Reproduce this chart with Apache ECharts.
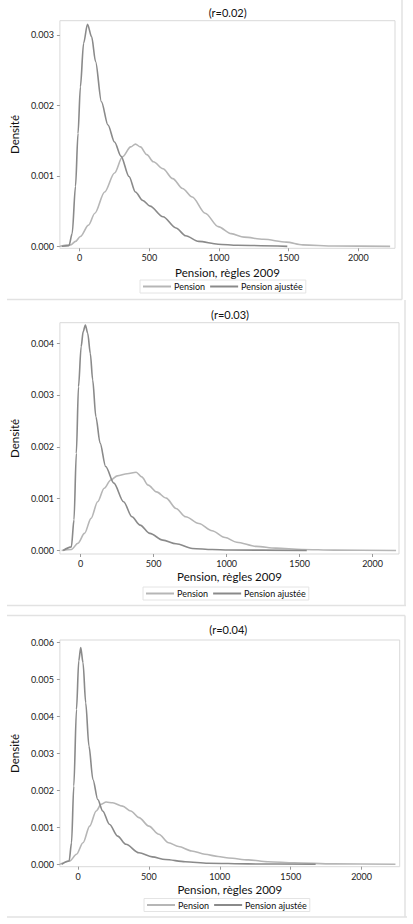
<!DOCTYPE html>
<html>
<head>
<meta charset="utf-8">
<script src="https://cdn.jsdelivr.net/npm/echarts@6/dist/echarts.min.js"></script>
<style>
html,body{margin:0;padding:0;background:#fff;}
#c{width:413px;height:924px;}
</style>
</head>
<body>
<div id="c"></div>
<script>
// ---- data ----
const titles = ['(r=0.02)', '(r=0.03)', '(r=0.04)'];
const seriesNames = ['Pension', 'Pension ajustée'];
const xTicks = [0, 500, 1000, 1500, 2000];
const yTicks1 = [0, 0.001, 0.002, 0.003];
const yTicks2 = [0, 0.001, 0.002, 0.003, 0.004];
const yTicks3 = [0, 0.001, 0.002, 0.003, 0.004, 0.005, 0.006];

// Panel 1 (r=0.02)
const p1PensionX = [-142,-65,-30,5,63,109,179,250,307,366,400,436,482,529,598,668,738,808,901,994,1087,1180,1320,1483,1600,1830,2228];
const p1PensionY = [0,0.00002,0.00007,0.00014,0.0003,0.00047,0.00077,0.00104,0.00127,0.00141,0.00145,0.00141,0.0013,0.0012,0.0011,0.00096,0.00082,0.0007,0.00047,0.00028,0.00018,0.00013,0.0001,0.00006,0.00002,0.000005,0];
const p1AjusteeX = [-128,-77,-54,-30,-12,5,28,56,86,114,156,203,250,296,354,400,453,505,598,691,761,854,993,1133,1490];
const p1AjusteeY = [0,0.00001,0.00018,0.00085,0.0016,0.00226,0.00288,0.00315,0.00297,0.00262,0.00205,0.00172,0.00148,0.00128,0.00099,0.00077,0.00065,0.00057,0.00042,0.00026,0.00015,0.00007,0.00003,0.000015,0];

// Panel 2 (r=0.03)
const p2PensionX = [-131,-64,-19,26,71,116,161,206,251,318,380,418,463,519,586,653,720,810,900,989,1069,1203,1337,1515,1738,2161];
const p2PensionY = [0,0.00002,0.00014,0.00033,0.00062,0.00094,0.0012,0.00136,0.00144,0.00148,0.00151,0.00142,0.00126,0.00113,0.00101,0.00081,0.00065,0.00052,0.00038,0.00025,0.00016,0.00008,0.000045,0.00002,0.000008,0];
const p2AjusteeX = [-120,-64,-46,-30,-15,3,17,32,48,66,82,104,133,171,227,294,351,407,474,563,653,765,900,1012,1549];
const p2AjusteeY = [0,0.00007,0.00059,0.00187,0.00316,0.00393,0.00422,0.00435,0.00419,0.0038,0.00329,0.00258,0.00207,0.00162,0.0013,0.00094,0.00065,0.00049,0.00033,0.0002,0.00013,0.00004,0.00002,0.00001,0];

// Panel 3 (r=0.04)
const p3PensionX = [-128,-58,-11,35,82,128,163,198,244,314,372,430,500,570,639,709,802,895,988,1062,1201,1340,1525,1803,2239];
const p3PensionY = [0,0.00009,0.00027,0.00058,0.00103,0.00144,0.00162,0.00168,0.00166,0.00157,0.00144,0.00126,0.00103,0.00081,0.00058,0.00048,0.00036,0.00027,0.00021,0.00017,0.00012,0.00007,0.00004,0.00001,0];
const p3AjusteeX = [-116,-63,-46,-30,-11,5,19,35,54,77,105,139,174,221,279,338,430,523,616,756,918,1200,1676];
const p3AjusteeY = [0,0.00009,0.00058,0.00211,0.00418,0.00549,0.00585,0.00544,0.00436,0.00319,0.00229,0.00175,0.00144,0.00108,0.00076,0.00054,0.00031,0.0002,0.00013,0.00007,0.00003,0.00001,0];

// ---- layout / style ----
const FONT = 'Lato, "Open Sans", sans-serif';
const colPension = '#b6b6b6';
const colAjustee = '#8a8a8a';

const panels = [
  {grid:{left:50.7, top:20.7, width:344.3, height:227.6}, x:[-142,2263], y:[-0.000028,0.0032], yTicks:yTicks1,
   title:{x:227.7, y:6.5}, xGap:18, yGap:33.5, legendTop:280, legendLeft:140,
   pension:[p1PensionX,p1PensionY], ajustee:[p1AjusteeX,p1AjusteeY]},
  {grid:{left:53.3, top:322.7, width:345.7, height:231.3}, x:[-142.5,2181], y:[-0.0000675,0.004393], yTicks:yTicks2,
   title:{x:230, y:309}, xGap:16.5, yGap:35.5, legendTop:587, legendLeft:143,
   pension:[p2PensionX,p2PensionY], ajustee:[p2AjusteeX,p2AjusteeY]},
  {grid:{left:56, top:640, width:343.7, height:226.7}, x:[-128,2269], y:[-0.000065,0.006054], yTicks:yTicks3,
   title:{x:228.3, y:624}, xGap:17, yGap:35.5, legendTop:898.5, legendLeft:144,
   pension:[p3PensionX,p3PensionY], ajustee:[p3AjusteeX,p3AjusteeY]}
];

function zip(xs, ys){ return xs.map((x,i)=>[x, ys[i]]); }

const option = {
  backgroundColor:'#fff',
  animation:false,
  textStyle:{fontFamily:FONT},
  title:[], grid:[], xAxis:[], yAxis:[], legend:[], series:[],
  graphic:[]
};

panels.forEach((p, i) => {
  option.title.push({
    text: titles[i], left: p.title.x, top: p.title.y, textAlign:'center', padding:0,
    textStyle:{fontFamily:FONT, fontSize:11, fontWeight:'normal', color:'#111'}
  });
  option.grid.push(Object.assign({show:true, borderColor:'#d9d9d9', borderWidth:1, backgroundColor:'#fff'}, p.grid));
  option.xAxis.push({
    type:'value', gridIndex:i, min:p.x[0], max:p.x[1],
    name:'Pension, règles 2009', nameLocation:'middle', nameGap:p.xGap,
    nameTextStyle:{fontFamily:FONT, fontSize:11.5, fontWeight:'normal', color:'#111'},
    axisLine:{show:false, onZero:false},
    axisTick:{show:true, length:3, lineStyle:{color:'#9a9a9a'}, customValues:xTicks},
    axisLabel:{fontFamily:FONT, fontSize:9, color:'#222', margin:5, customValues:xTicks,
      formatter: v => String(Math.round(v))},
    splitLine:{show:false}
  });
  option.yAxis.push({
    type:'value', gridIndex:i, min:p.y[0], max:p.y[1],
    name:'Densité', nameLocation:'middle', nameGap:p.yGap,
    nameTextStyle:{fontFamily:FONT, fontSize:11.5, fontWeight:'normal', color:'#111'},
    axisLine:{show:false, onZero:false},
    axisTick:{show:true, length:3, lineStyle:{color:'#9a9a9a'}, customValues:p.yTicks},
    axisLabel:{fontFamily:FONT, fontSize:9, color:'#222', margin:6, customValues:p.yTicks,
      formatter: v => v.toFixed(3)},
    splitLine:{show:false}
  });
  option.legend.push({
    data: seriesNames, left:p.legendLeft, top:p.legendTop, orient:'horizontal',
    icon:'rect', itemWidth:28, itemHeight:2, itemGap:5,
    padding:[2,3,2,3], borderColor:'#e4e4e4', borderWidth:1,
    textStyle:{fontFamily:FONT, fontSize:9, color:'#111', padding:[0,0,0,-2]},
    selectedMode:false
  });
  option.series.push({
    name: seriesNames[0], type:'line', xAxisIndex:i, yAxisIndex:i,
    data: zip(p.pension[0], p.pension[1]), showSymbol:false, symbol:'none',
    smooth:0.3, smoothMonotone:'x', lineStyle:{color:colPension, width:1.6}, itemStyle:{color:colPension}, z:2
  });
  option.series.push({
    name: seriesNames[1], type:'line', xAxisIndex:i, yAxisIndex:i,
    data: zip(p.ajustee[0], p.ajustee[1]), showSymbol:false, symbol:'none',
    smooth:0.3, smoothMonotone:'x', lineStyle:{color:colAjustee, width:1.6}, itemStyle:{color:colAjustee}, z:3
  });
});

// panel frames (light separators of the stacked figures)
const frameStyle = {stroke:'#e2e2e2', lineWidth:1.5};
[
  [7,299.5,402,299.5],[402,0,402,299.5],
  [7,605.5,406,605.5],[405,300,405,605.5],
  [7,615.5,405,615.5],[405,615.5,405,917],
  [7,917,407,917]
].forEach(l => option.graphic.push({type:'line', shape:{x1:l[0],y1:l[1],x2:l[2],y2:l[3]}, style:frameStyle, silent:true}));

const chart = echarts.init(document.getElementById('c'), null, {renderer:'svg'});
chart.setOption(option);
</script>
</body>
</html>
